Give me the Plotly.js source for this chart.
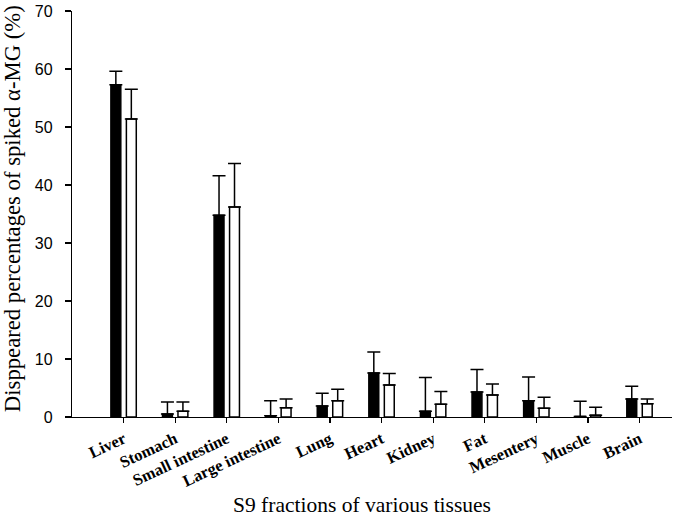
<!DOCTYPE html>
<html>
<head>
<meta charset="utf-8">
<script src="https://cdn.plot.ly/plotly-3.0.1.min.js"></script>
<style>html,body{margin:0;padding:0;background:#fff;}#chart{width:674px;height:516px;}</style>
</head>
<body>
<div id="chart"></div>
<script>
const categories = ["Liver","Stomach","Small intestine","Large intestine","Lung","Heart","Kidney","Fat","Mesentery","Muscle","Brain"];
const series1Values = [57.3, 0.5, 34.8, 0.2, 1.9, 7.6, 1.0, 4.3, 2.8, 0.1, 3.1];
const series1Errors = [2.3, 2.1, 6.8, 2.6, 2.2, 3.6, 5.8, 3.9, 4.1, 2.6, 2.2];
const series2Values = [51.4, 1.0, 36.2, 1.6, 2.8, 5.5, 2.2, 3.8, 1.5, 0.3, 2.3];
const series2Errors = [5.1, 1.6, 7.5, 1.5, 2.0, 2.0, 2.2, 1.9, 1.9, 1.4, 0.8];
const yTicks = [0,10,20,30,40,50,60,70];
const xTitle = 'S9 fractions of various tissues';
const yTitle = 'Disppeared percentages of spiked α-MG (%)';

const idx = categories.map((c,i)=>i);
function errBar(arr){
  return {type:'data', symmetric:false, array:arr, arrayminus:arr.map(()=>0),
          color:'#000', thickness:1.5, width:6.5, visible:true};
}
const traces = [
  {type:'bar', x:idx, y:series1Values, error_y:errBar(series1Errors),
   marker:{color:'#000', line:{color:'#000', width:1.5}}, showlegend:false},
  {type:'bar', x:idx, y:series2Values, error_y:errBar(series2Errors),
   marker:{color:'#fff', line:{color:'#000', width:1.5}}, showlegend:false}
];
const serif = '"Liberation Serif", "Times New Roman", serif';
const layout = {
  width:674, height:516,
  margin:{l:72, r:2, t:11, b:99},
  paper_bgcolor:'#fff', plot_bgcolor:'#fff',
  barmode:'group', bargap:0.40, bargroupgap:0.36,
  xaxis:{
    range:[-1.0, 10.63], tickmode:'array', tickvals:idx, ticktext:categories,
    tickangle:-25, ticks:'outside', ticklen:5, tickwidth:1.2, tickcolor:'#000',
    showline:true, linecolor:'#000', linewidth:1.2, showgrid:false, zeroline:false,
    tickfont:{family:serif, size:16.5, color:'#000', weight:'bold'}
  },
  yaxis:{
    range:[0,70], tickmode:'array', tickvals:yTicks, ticks:'outside', ticklen:6,
    tickwidth:1.2, tickcolor:'#000', showline:true, linecolor:'#000', linewidth:1.2,
    showgrid:false, zeroline:false, ticklabeloverflow:'allow', ticklabelstandoff:9,
    tickfont:{family:'"Liberation Sans", Arial, sans-serif', size:16, color:'#000'}
  },
  annotations:[
    {text:xTitle, xref:'paper', yref:'paper', x:0.483, y:-0.2167, xanchor:'center', yanchor:'middle',
     showarrow:false, font:{family:serif, size:21.5, color:'#000'}},
    {text:yTitle, xref:'paper', yref:'paper', x:-0.1, y:0.512, xanchor:'center', yanchor:'middle',
     textangle:-90, showarrow:false, font:{family:serif, size:22.7, color:'#000'}}
  ]
};
Plotly.newPlot('chart', traces, layout, {staticPlot:true, displayModeBar:false});
</script>
</body>
</html>
